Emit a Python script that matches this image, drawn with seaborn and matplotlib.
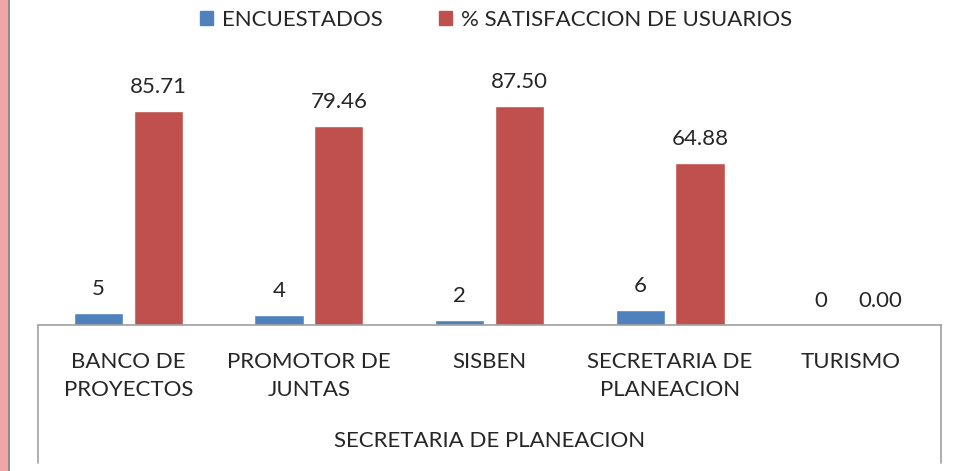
import pandas as pd
import seaborn as sns
import matplotlib.pyplot as plt
from matplotlib.lines import Line2D
from matplotlib.patches import Rectangle

categories = ['BANCO DE\nPROYECTOS', 'PROMOTOR DE\nJUNTAS', 'SISBEN',
              'SECRETARIA DE\nPLANEACION', 'TURISMO']
encuestados = [5, 4, 2, 6, 0]
satisfaccion = [85.71, 79.46, 87.50, 64.88, 0.00]
series = ['ENCUESTADOS', '% SATISFACCION DE USUARIOS']
group_label = 'SECRETARIA DE PLANEACION'

df = pd.DataFrame({
    'categoria': categories * 2,
    'serie': [series[0]] * 5 + [series[1]] * 5,
    'valor': encuestados + satisfaccion,
})

sns.set_style('white')
plt.rcParams['font.family'] = ['Lato', 'DejaVu Sans']

W, H = 955, 471
fig = plt.figure(figsize=(W / 100, H / 100), dpi=100)
ax = fig.add_axes([38 / W, (H - 325) / H, 903 / W, 285 / H])

sns.barplot(data=df, x='categoria', y='valor', hue='serie', ax=ax,
            palette=['#4F81BD', '#C0504D'], width=0.664, gap=0.18,
            saturation=1, legend=False)

ax.set_ylim(0, 114)
ax.set_xlim(-0.5, 4.5)
ax.set_xlabel('')
ax.set_ylabel('')
ax.set_yticks([])
ax.set_xticks([])
for s in ['top', 'left', 'right']:
    ax.spines[s].set_visible(False)
ax.spines['bottom'].set_color('#A0A0A0')
ax.spines['bottom'].set_linewidth(1.2)

fs = 16
ax.bar_label(ax.containers[0], fmt='%d', padding=10, fontsize=fs)
ax.bar_label(ax.containers[1], fmt='%.2f', padding=10, fontsize=fs)

# category labels below the axis
for i, c in enumerate(categories):
    ax.text(i, -11, c, ha='center', va='top', fontsize=fs,
            linespacing=1.5, clip_on=False)
ax.text(2, -46.4, group_label, ha='center', va='center',
        fontsize=fs, clip_on=False)

# table-like borders
for x in [38, 941]:
    fig.add_artist(Line2D([x / W, x / W], [(H - 325) / H, (H - 463) / H],
                          color='#A0A0A0', lw=1.2))

# left page border
fig.add_artist(Rectangle((0, 0), 7.5 / W, 1, color='#F2A5A7', lw=0))
fig.add_artist(Rectangle((7.5 / W, 0), 2.5 / W, 1, color='#8C8C8C', lw=0))

handles = [Rectangle((0, 0), 1, 1, color='#4F81BD'),
           Rectangle((0, 0), 1, 1, color='#C0504D')]
fig.legend(handles, series, loc='center', bbox_to_anchor=(496 / W, 1 - 20 / H),
           ncol=2, frameon=False, fontsize=fs, handlelength=0.6,
           handleheight=0.6, handletextpad=0.4, columnspacing=2.5)

fig.savefig('out.png', dpi=100)
